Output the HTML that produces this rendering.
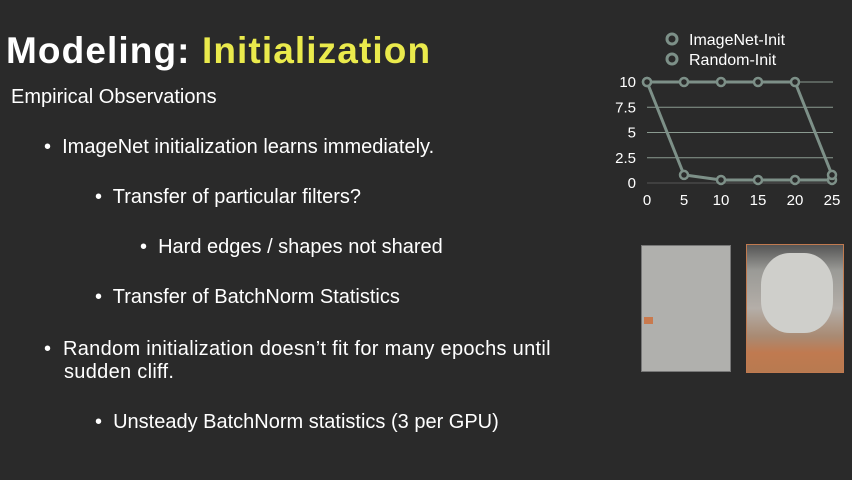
<!DOCTYPE html>
<html><head><meta charset="utf-8"><style>
body{margin:0;width:852px;height:480px;background:#2a2a2a;overflow:hidden;font-family:"Liberation Sans",sans-serif;color:#fff;position:relative}
.t{position:absolute;white-space:nowrap;font-size:20px}
</style></head><body>
<div class="t" style="left:6px;top:30px;font-size:37px;font-weight:bold;letter-spacing:1.1px">Modeling: <span style="color:#eaea4c">Initialization</span></div>
<div class="t" style="left:11px;top:86px">Empirical Observations</div>
<div class="t" style="left:44px;top:136px">•&nbsp; ImageNet initialization learns immediately.</div>
<div class="t" style="left:95px;top:186px">•&nbsp; Transfer of particular filters?</div>
<div class="t" style="left:140px;top:236px">•&nbsp; Hard edges / shapes not shared</div>
<div class="t" style="left:95px;top:286px">•&nbsp; Transfer of BatchNorm Statistics</div>
<div class="t" style="left:44px;top:338px;line-height:23px;letter-spacing:0.3px">•&nbsp; Random initialization doesn’t fit for many epochs until</div>
<div class="t" style="left:64px;top:361px;letter-spacing:0.3px">sudden cliff.</div>
<div class="t" style="left:95px;top:411px">•&nbsp; Unsteady BatchNorm statistics (3 per GPU)</div>
<svg id="chart" width="852" height="480" style="position:absolute;left:0;top:0"></svg>
<div style="position:absolute;left:641px;top:245px;width:88px;height:125px;background:#b0b0ad;border:1px solid #777"><div style="position:absolute;left:2px;top:71px;width:9px;height:7px;background:#c97a4e"></div></div>
<div style="position:absolute;left:746px;top:244px;width:96px;height:127px;background:linear-gradient(180deg,#555 0%,#9a9a96 20%,#b4aea8 50%,#a98a72 72%,#c07a50 85%,#b87a50 100%);border:1px solid #c07a50"><div style="position:absolute;left:14px;top:8px;width:72px;height:80px;border-radius:40%;background:#cfcfcb"></div></div>
<script>
const xs=[0,5,10,15,20,25];
const imagenet=[10,0.8,0.3,0.3,0.3,0.3];
const random=[10,10,10,10,10,0.8];
const yTicks=[0,2.5,5,7.5,10];
const yTickLabels=["0","2.5","5","7.5","10"];
const seriesNames=["ImageNet-Init","Random-Init"];
const svg=document.getElementById('chart');const NS='http://www.w3.org/2000/svg';
const X=v=>647+v/25*185, Y=v=>183-v/10*101;
function el(t,a,p){const e=document.createElementNS(NS,t);for(const k in a)e.setAttribute(k,a[k]);(p||svg).appendChild(e);return e;}
yTicks.forEach((v,i)=>{const l=el('line',{x1:647,x2:833,y1:Y(v),y2:Y(v),stroke:v===0?'#555':'#8a9a90','stroke-width':1});


const t=el('text',{x:636,y:Y(v)+5,'text-anchor':'end','font-size':15,fill:'#fff','font-family':'Liberation Sans'});t.textContent=yTickLabels[i];

});
xs.forEach(v=>{const t=el('text',{x:X(v),y:205,'text-anchor':'middle','font-size':15,fill:'#fff','font-family':'Liberation Sans'});t.textContent=v;

});
[imagenet,random].forEach((s,i)=>{const p=el('polyline',{points:s.map((v,j)=>X(xs[j])+','+Y(v)).join(' '),fill:'none',stroke:'#7d9088','stroke-width':3});


s.forEach((v,j)=>{const c=el('circle',{cx:X(xs[j]),cy:Y(v),r:4,fill:'#2a2a2a',stroke:'#7d9088','stroke-width':2.5});

});
const lc=el('circle',{cx:672,cy:39+i*20,r:5,fill:'#2a2a2a',stroke:'#7d9088','stroke-width':3});


const lt=el('text',{x:689,y:45+i*20,'font-size':16,fill:'#fff','font-family':'Liberation Sans'});lt.textContent=seriesNames[i];

});
</script>
</body></html>
